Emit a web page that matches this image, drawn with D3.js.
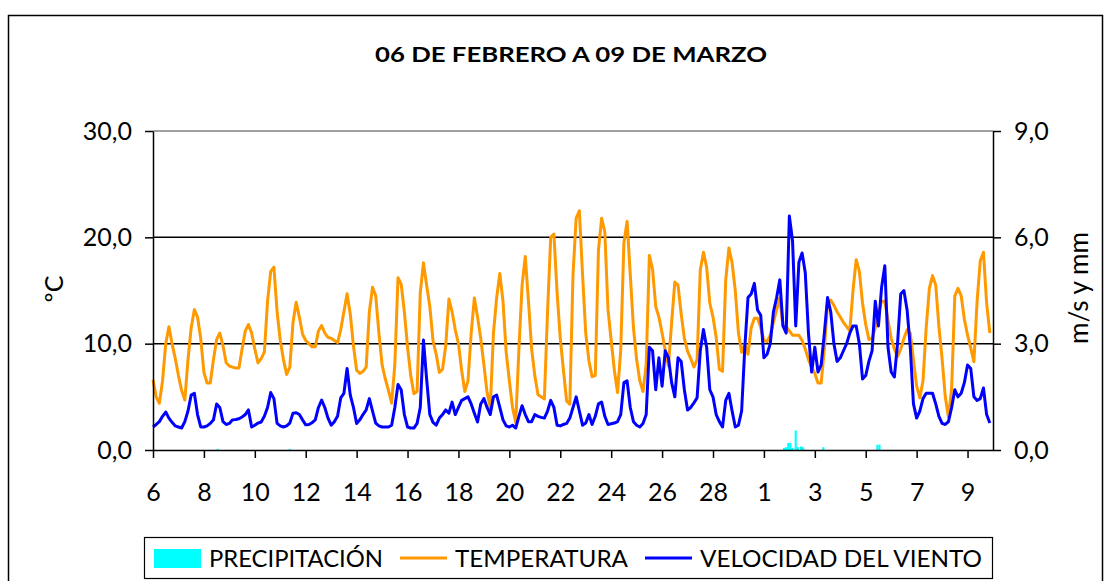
<!DOCTYPE html>
<head>
    <meta charset="utf-8">
    <title>06 de febrero a 09 de marzo</title>
    <style>
        body { margin: 0; background: #fff; }
        text { font-family: Lato, "Open Sans", sans-serif; fill: #000; }
    </style>
</head>
<body>
<script src="https://d3js.org/d3.v7.min.js"></script>
<script>

    //readings every 3 hours starting 6 Feb 00:00
    var STEP_H = 3;

    var temperatura = [
        6.6, 5.0, 4.4, 6.5, 10.0, 11.6, 10.0, 8.6,
        7.0, 5.6, 4.7, 8.5, 11.5, 13.2, 12.5, 10.5,
        7.3, 6.3, 6.3, 8.5, 10.4, 11.0, 9.8, 8.2,
        7.9, 7.8, 7.7, 7.7, 9.5, 11.2, 11.8, 11.0, 9.5,
        8.2, 8.6, 9.2, 14.0, 16.8, 17.2, 13.0, 10.3,
        8.5, 7.1, 7.8, 12.0, 13.9, 12.5, 10.9, 10.3,
        10.0, 9.7, 9.7, 11.2, 11.7, 11.0, 10.6, 10.5,
        10.3, 10.1, 11.3, 13.0, 14.7, 12.8, 9.8, 7.5,
        7.2, 7.4, 7.8, 13.0, 15.3, 14.5, 11.0, 8.0, 6.7,
        5.6, 4.4, 8.0, 16.2, 15.6, 13.0, 9.7, 7.0,
        5.3, 5.5, 14.8, 17.6, 15.5, 13.5, 10.3, 9.0,
        7.3, 7.6, 9.8, 14.2, 13.0, 11.3, 10.0, 7.5,
        5.5, 6.5, 11.0, 14.3, 12.5, 10.5, 8.0, 5.4,
        4.0, 11.0, 14.3, 16.6, 14.0, 9.2, 6.5, 4.0,
        2.6, 9.5, 15.5, 18.2, 14.0, 9.5, 7.0, 5.2, 5.0,
        4.8, 13.0, 20.0, 20.3, 14.8, 10.5, 7.5, 4.6,
        4.3, 16.5, 21.8, 22.5, 16.5, 11.0, 8.4, 6.9,
        7.0, 18.8, 21.8, 20.5, 13.2, 10.3, 7.5, 5.4,
        9.4, 19.5, 21.5, 16.5, 11.5, 8.5, 6.5, 5.5,
        8.0, 18.3, 17.0, 13.5, 12.5, 11.0, 9.3, 7.9,
        12.0, 15.8, 15.5, 12.8, 10.5, 9.3, 8.6, 7.8, 8.5,
        16.9, 18.6, 17.2, 13.8, 12.5, 10.6, 7.6, 7.4,
        16.0, 19.0, 17.6, 15.0, 11.0, 9.2, 10.0, 9.0,
        11.5, 12.4, 12.4, 11.5, 10.3, 10.2, 10.8, 12.0,
        13.2, 14.3, 11.6, 11.6, 11.2, 10.8, 10.8, 10.8,
        10.3, 9.5, 8.5, 7.8, 7.2, 6.3, 6.3, 9.5,
        13.8, 14.1, 13.6, 13.0, 12.5, 12.0, 11.6, 11.2, 15.0,
        17.9, 16.8, 13.8, 11.8, 10.4, 10.5, 11.5, 12.8,
        14.0, 14.0, 12.2, 10.5, 9.5, 8.8, 9.5, 10.5,
        11.3, 11.0, 8.5, 6.0, 4.9, 6.5, 11.5, 15.2,
        16.4, 15.5, 11.6, 8.6, 5.0, 3.1, 5.8, 14.5,
        15.2, 14.5, 12.3, 10.8, 9.6, 8.3, 14.0, 17.8,
        18.6, 13.8, 11.0
    ];

    var viento = [
        0.65, 0.72, 0.8, 0.95, 1.07, 0.9, 0.78, 0.68,
        0.65, 0.62, 0.8, 1.1, 1.55, 1.6, 1.0, 0.65,
        0.65, 0.68, 0.75, 0.85, 1.3, 1.2, 0.8, 0.72,
        0.75, 0.85, 0.86, 0.88, 0.93, 1.0, 1.13, 0.65, 0.7,
        0.76, 0.79, 0.95, 1.2, 1.62, 1.45, 0.75, 0.68,
        0.65, 0.68, 0.76, 1.04, 1.05, 1.0, 0.85, 0.71,
        0.72, 0.77, 0.85, 1.2, 1.41, 1.2, 0.9, 0.7,
        0.8, 0.95, 1.47, 1.6, 2.3, 1.55, 1.2, 0.75,
        0.85, 1.0, 1.13, 1.45, 1.1, 0.76, 0.68, 0.65, 0.65,
        0.65, 0.7, 1.2, 1.85, 1.7, 1.0, 0.65, 0.62,
        0.62, 0.75, 1.2, 3.1, 2.0, 1.0, 0.78, 0.7,
        0.9, 1.0, 1.13, 1.04, 1.35, 1.0, 1.2, 1.4,
        1.45, 1.5, 1.3, 1.04, 0.79, 1.3, 1.45, 1.2,
        1.0, 1.5, 1.55, 1.2, 0.85, 0.68, 0.65, 0.7,
        0.62, 0.95, 1.25, 1.0, 0.8, 0.8, 1.0, 0.95, 0.92,
        0.9, 1.1, 1.4, 1.2, 0.7, 0.68, 0.72, 0.75,
        0.9, 1.2, 1.5, 1.1, 0.7, 0.76, 1.0, 0.72,
        0.95, 1.3, 1.35, 0.95, 0.72, 0.74, 0.76, 0.8,
        1.0, 1.9, 1.95, 1.2, 0.8, 0.7, 0.65, 0.75,
        1.0, 2.9, 2.8, 1.7, 2.6, 1.8, 2.8, 2.6,
        1.9, 1.5, 2.6, 2.5, 1.7, 1.13, 1.2, 1.33, 1.47,
        2.8, 3.4, 2.9, 1.7, 1.5, 1.0, 0.8, 0.65,
        1.4, 1.6, 1.1, 0.65, 0.7, 1.1, 2.9, 4.3,
        4.4, 4.7, 3.95, 3.8, 2.6, 2.7, 3.0, 3.9,
        4.3, 4.8, 3.5, 3.3, 6.6, 5.9, 3.5, 5.3,
        5.56, 5.0, 3.3, 2.2, 2.9, 2.2, 2.4, 3.3,
        4.3, 3.9, 3.0, 2.5, 2.6, 2.8, 3.0, 3.3, 3.5,
        3.5, 3.0, 2.0, 2.1, 2.5, 2.8, 4.2, 3.5,
        4.6, 5.2, 2.9, 2.2, 2.06, 3.0, 4.4, 4.5,
        3.95, 2.9, 1.3, 0.9, 1.1, 1.45, 1.6, 1.6,
        1.6, 1.3, 0.95, 0.75, 0.72, 0.8, 1.2, 1.7,
        1.5, 1.6, 1.9, 2.4, 2.3, 1.5, 1.4, 1.45,
        1.75, 1.0, 0.76
    ];

    //rain: hour since 6 Feb 00:00 and mm
    var lluviaHora = [61, 129, 595, 597, 599, 601, 603, 606, 608, 611, 613, 632, 683, 685];
    var lluviaMm   = [0.03, 0.03, 0.06, 0.08, 0.2, 0.2, 0.06, 0.55, 0.08, 0.1, 0.08, 0.08, 0.15, 0.15];

    //x labels every two days (leap year, so 28 -> 1)
    var etiquetasDia = ["6", "8", "10", "12", "14", "16", "18", "20", "22", "24", "26", "28", "1", "3", "5", "7", "9"];
    var ticksTemp = [0, 10, 20, 30];
    var ticksViento = [0, 3, 6, 9];

    var svg = d3.select("body").append("svg")
        .attr("width", 1110)
        .attr("height", 581);

    //plot box (window.top is taken, so own names)
    var plotLeft = 153, plotRight = 993, plotTop = 131, plotBottom = 450;

    //scales
    var x = d3.scaleLinear().domain([0, 33 * 24]).range([plotLeft, plotRight]);
    var yT = d3.scaleLinear().domain([0, 30]).range([plotBottom, plotTop]);
    var yW = d3.scaleLinear().domain([0, 9]).range([plotBottom, plotTop]);

    var coma = d => d3.format(".1f")(d).replace(".", ",");

    //chart frame
    svg.append("rect")
        .attr("x", 8.5).attr("y", 15.5)
        .attr("width", 1094).attr("height", 620)
        .attr("fill", "none").attr("stroke", "#000").attr("stroke-width", 1.5);

    //title
    svg.append("text")
        .attr("x", 571).attr("y", 62)
        .attr("text-anchor", "middle")
        .attr("font-size", 21).attr("font-weight", "bold")
        .attr("textLength", 392).attr("lengthAdjust", "spacingAndGlyphs")
        .text("06 DE FEBRERO A 09 DE MARZO");

    //gridlines
    svg.append("g").selectAll("line")
        .data(ticksTemp.filter(d => d > 0))
        .enter().append("line")
            .attr("x1", plotLeft).attr("x2", plotRight)
            .attr("y1", d => yT(d)).attr("y2", d => yT(d))
            .attr("stroke", d => d === 30 ? "#808080" : "#000")
            .attr("stroke-width", 1.5);

    //precipitation bars
    var barW = x(2) - x(0);
    svg.append("g").selectAll("rect")
        .data(lluviaHora)
        .enter().append("rect")
            .attr("x", d => x(d) - barW / 2)
            .attr("width", barW)
            .attr("y", (d, i) => yW(lluviaMm[i]))
            .attr("height", (d, i) => plotBottom - yW(lluviaMm[i]))
            .attr("fill", "#00ffff");

    //lines
    var lineT = d3.line().x((d, i) => x(i * STEP_H)).y(d => yT(d));
    var lineW = d3.line().x((d, i) => x(i * STEP_H)).y(d => yW(d));

    svg.append("path")
        .attr("d", lineT(temperatura))
        .attr("fill", "none").attr("stroke", "#ff9900")
        .attr("stroke-width", 3).attr("stroke-linejoin", "round");

    svg.append("path")
        .attr("d", lineW(viento))
        .attr("fill", "none").attr("stroke", "#0000ff")
        .attr("stroke-width", 3).attr("stroke-linejoin", "round");

    //axes
    var xAxis = svg.append("g")
        .attr("transform", "translate(0," + plotBottom + ")")
        .call(d3.axisBottom(x)
            .tickValues(d3.range(0, 33 * 24, 48))
            .tickFormat((d, i) => etiquetasDia[i])
            .tickSize(8).tickSizeOuter(0).tickPadding(25));

    var yAxisL = svg.append("g")
        .attr("transform", "translate(" + plotLeft + ",0)")
        .call(d3.axisLeft(yT).tickValues(ticksTemp).tickFormat(coma)
            .tickSize(8).tickSizeOuter(0).tickPadding(13));

    var yAxisR = svg.append("g")
        .attr("transform", "translate(" + plotRight + ",0)")
        .call(d3.axisRight(yW).tickValues(ticksViento).tickFormat(coma)
            .tickSize(8).tickSizeOuter(0).tickPadding(13));

    [xAxis, yAxisL, yAxisR].forEach(g => {
        g.selectAll("path, line").attr("stroke", "#000").attr("stroke-width", 1.5);
        g.selectAll("text").attr("font-size", 25).attr("font-family", "Lato, sans-serif");
    });

    //axis titles
    svg.append("text")
        .attr("transform", "translate(63,289) rotate(-90)")
        .attr("text-anchor", "middle").attr("font-size", 25)
        .text("ºC");

    svg.append("text")
        .attr("transform", "translate(1088,288) rotate(-90)")
        .attr("text-anchor", "middle").attr("font-size", 26)
        .attr("textLength", 112).attr("lengthAdjust", "spacingAndGlyphs")
        .text("m/s y mm");

    //legend
    var legend = svg.append("g");
    legend.append("rect")
        .attr("x", 144.5).attr("y", 537.5).attr("width", 848).attr("height", 41)
        .attr("fill", "#fff").attr("stroke", "#000").attr("stroke-width", 1.2);

    var items = [
        {label: "PRECIPITACIÓN", color: "#00ffff", kind: "bar", x0: 154, w: 174},
        {label: "TEMPERATURA", color: "#ff9900", kind: "line", x0: 400, w: 173},
        {label: "VELOCIDAD DEL VIENTO", color: "#0000ff", kind: "line", x0: 645, w: 282}
    ];

    items.forEach(it => {
        if (it.kind === "bar") {
            legend.append("rect")
                .attr("x", it.x0).attr("y", 549).attr("width", 47).attr("height", 19)
                .attr("fill", it.color);
        } else {
            legend.append("line")
                .attr("x1", it.x0).attr("x2", it.x0 + 47)
                .attr("y1", 558).attr("y2", 558)
                .attr("stroke", it.color).attr("stroke-width", 3);
        }
        legend.append("text")
            .attr("x", it.x0 + 55).attr("y", 567)
            .attr("font-size", 24)
            .attr("textLength", it.w).attr("lengthAdjust", "spacingAndGlyphs")
            .text(it.label);
    });

</script>
</body>
